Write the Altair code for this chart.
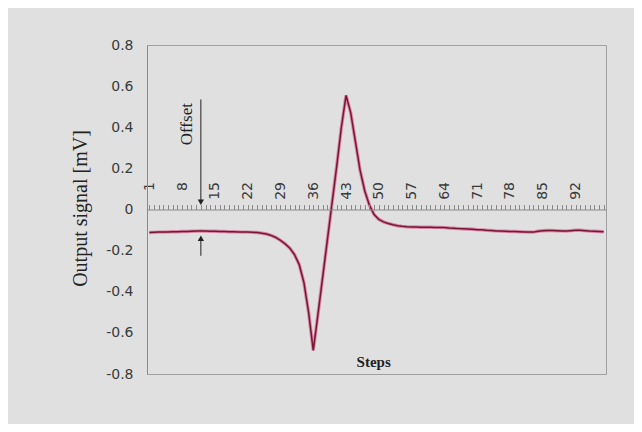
import altair as alt
import pandas as pd

steps = list(range(1, 99))
signal = [
    -0.112, -0.111, -0.110, -0.110, -0.109, -0.108, -0.108, -0.107, -0.107, -0.106,
    -0.105, -0.104, -0.105, -0.106, -0.106, -0.107, -0.107, -0.108, -0.108, -0.109,
    -0.110, -0.110, -0.111, -0.112, -0.115, -0.119, -0.126, -0.136, -0.150, -0.167,
    -0.188, -0.220, -0.268, -0.355, -0.500, -0.685, -0.510, -0.330, -0.150, 0.030,
    0.210, 0.400, 0.555, 0.470, 0.330, 0.190, 0.090, 0.020, -0.025, -0.048,
    -0.060, -0.068, -0.074, -0.079, -0.082, -0.084, -0.085, -0.085, -0.086, -0.086,
    -0.086, -0.087, -0.087, -0.088, -0.090, -0.091, -0.093, -0.094, -0.095, -0.096,
    -0.098, -0.099, -0.101, -0.102, -0.104, -0.105, -0.106, -0.107, -0.107, -0.108,
    -0.109, -0.110, -0.110, -0.106, -0.103, -0.102, -0.102, -0.103, -0.104, -0.105,
    -0.103, -0.101, -0.101, -0.103, -0.105, -0.106, -0.107, -0.108,
]
y_ticks = [-0.8, -0.6, -0.4, -0.2, 0, 0.2, 0.4, 0.6, 0.8]

# annotation ("Offset" arrows) values
arrow_step = [12, 12]
arrow_tail = [0.535, -0.225]
arrow_tip = [0.035, -0.14]
arrow_shape = ["triangle-down", "triangle-up"]

df = pd.DataFrame({"step": steps, "signal": signal})
arrows = pd.DataFrame({"step": arrow_step, "tail": arrow_tail, "tip": arrow_tip, "shape": arrow_shape})
labels = pd.DataFrame({"step": [9.1], "val": [0.415], "text": ["Offset"]})
steps_lbl = pd.DataFrame({"step": [48.9], "val": [-0.74], "text": ["Steps"]})

xscale = alt.Scale(domain=[0.5, 98.5], nice=False, zero=False)
yscale = alt.Scale(domain=[-0.8, 0.8], nice=False, zero=False)

x_axis = alt.Axis(
    orient="top", offset=-164.5, values=steps, zindex=1,
    labelExpr="(datum.value - 1) % 7 == 0 ? datum.value + '' : ''",
    labelAngle=270, labelAlign="right", labelBaseline="middle",
    labelPadding=23, labelFontSize=14, labelFont="DejaVu Sans",
    labelColor="#3a3a3a", labelOverlap=False, labelFlush=False,
    tickSize=5, tickColor="#8a8a8a", tickWidth=1,
    domainColor="#8a8a8a", domainWidth=1, grid=False,
)
y_axis = alt.Axis(
    values=y_ticks, zindex=1,
    labelExpr="datum.value == 0 ? '0' : replace(format(datum.value, '.1f'), '\u2212', '-')",
    labelFontSize=14, labelFont="DejaVu Sans", labelColor="#3a3a3a",
    labelPadding=14, ticks=False, grid=False,
    domainColor="#8a8a8a", domainWidth=1,
    title="Output signal [mV]", titleFont="Liberation Serif", titleFontSize=20,
    titleFontWeight="normal", titleColor="#222222", titleAngle=270,
    titleX=-67, titleY=163, titleAlign="center", titleBaseline="middle",
)

x_enc = alt.X("step:Q", scale=xscale, title=None, axis=x_axis)
y_enc = alt.Y("signal:Q", scale=yscale, axis=y_axis)

halo = alt.Chart(df).mark_line(color="#d0407a", strokeWidth=3.4, opacity=0.55).encode(x=x_enc, y=y_enc)
core = alt.Chart(df).mark_line(color="#7a1532", strokeWidth=1.5).encode(x=x_enc, y=y_enc)

rules = alt.Chart(arrows).mark_rule(color="#222222", strokeWidth=1).encode(
    x=alt.X("step:Q", scale=xscale, axis=x_axis, title=None),
    y=alt.Y("tail:Q", scale=yscale, axis=y_axis),
    y2="tip:Q",
)
heads = alt.Chart(arrows).mark_point(filled=True, color="#222222", size=40, opacity=1).encode(
    x=alt.X("step:Q", scale=xscale, axis=x_axis, title=None),
    y=alt.Y("tip:Q", scale=yscale, axis=y_axis),
    shape=alt.Shape("shape:N", scale=None, legend=None),
)
offset_txt = alt.Chart(labels).mark_text(
    font="Liberation Serif", fontSize=17, angle=270, color="#222222", baseline="middle", align="center"
).encode(
    x=alt.X("step:Q", scale=xscale, axis=x_axis, title=None),
    y=alt.Y("val:Q", scale=yscale, axis=y_axis),
    text="text:N",
)
steps_txt = alt.Chart(steps_lbl).mark_text(
    font="Liberation Serif", fontSize=15, fontWeight="bold", color="#222222", baseline="middle", align="center"
).encode(
    x=alt.X("step:Q", scale=xscale, axis=x_axis, title=None),
    y=alt.Y("val:Q", scale=yscale, axis=y_axis),
    text="text:N",
)

chart = alt.layer(halo, core, rules, heads, offset_txt, steps_txt).properties(
    width=459, height=329,
    autosize=alt.AutoSizeParams(type="none"),
    padding={"left": 139, "top": 37, "right": 28, "bottom": 50},
    background="#e0e0e0",
).configure_view(stroke="#a0a0a0", strokeWidth=1)

chart.save("out.html", embed_options={"renderer": "svg", "actions": False})
